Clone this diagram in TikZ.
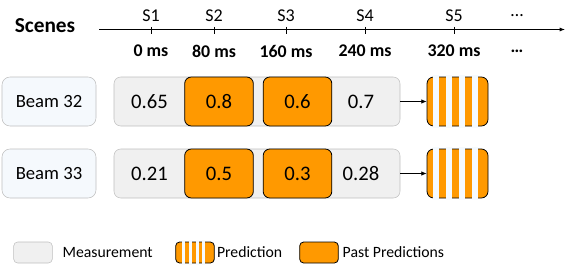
\documentclass[tikz,border=0pt]{standalone}
\usepackage{fontspec}
\setmainfont{Carlito}
\usetikzlibrary{positioning, arrows.meta}
\definecolor{pastorange}{HTML}{FF9900}
\definecolor{measgray}{HTML}{F0F0F0}
\definecolor{measedge}{HTML}{BFBFBF}
\definecolor{beamfill}{HTML}{F5F9FD}
\definecolor{stripewhite}{HTML}{F5FAFE}

\begin{document}
\begin{tikzpicture}[
  x=0.75pt, y=-0.75pt,
  beam/.style={draw=measedge, fill=beamfill, rounded corners=6pt,
               minimum width=70.5pt, minimum height=36.75pt, inner sep=0pt,
               font=\fontsize{14}{16}\selectfont},
  meas/.style={draw=measedge, fill=measgray, rounded corners=5pt,
               minimum width=214.5pt, minimum height=36.75pt, inner sep=0pt},
  past/.style={draw=black, fill=pastorange, rounded corners=5pt, line width=0.6pt,
               minimum width=51.5pt, minimum height=36.75pt, inner sep=0pt,
               font=\fontsize{15.5}{18}\selectfont},
  pred/.style={draw=black, fill=pastorange, rounded corners=5pt, line width=0.6pt,
               minimum width=45.75pt, minimum height=36.75pt, inner sep=0pt},
  stripe/.style={fill=stripewhite},
  val/.style={inner sep=0pt, font=\fontsize{15.5}{18}\selectfont},
  flow/.style={-{Latex[length=4pt, width=3.5pt]}, line width=0.6pt},
  scene/.style={inner sep=0pt, font=\fontsize{13.5}{15}\selectfont},
  stamp/.style={inner sep=0pt, font=\bfseries\fontsize{13.4}{15}\selectfont},
  legbox/.style={minimum width=29pt, minimum height=15.75pt, inner sep=0pt,
                 rounded corners=3pt},
  legtext/.style={inner sep=0pt, anchor=west, font=\fontsize{11.8}{14}\selectfont},
]
\useasboundingbox (0,0) rectangle (573,268);

% time axis
\node[inner sep=0pt, font=\bfseries\fontsize{16}{18}\selectfont] (scenes) at (45,26) {Scenes};
\coordinate (axstart) at (99,29.5);
\coordinate (axend) at (565,29.5);
\draw[-{Latex[length=4pt, width=3pt]}, line width=0.6pt] (axstart) -- (axend);
\foreach \x/\s/\t [count=\i] in {151/S1/0 ms, 214/S2/80 ms, 286/S3/160 ms,
                                 365/S4/240 ms, 454/S5/320 ms} {
  \coordinate (tick\i) at (\x,29.5);
  \draw[line width=0.6pt] ([yshift=2pt]tick\i) -- ([yshift=-3pt]tick\i);
  \node[scene] (s\i) at (\x,16) {\s};
  \node[stamp] (ms\i) at (\x,51) {\t};
}
\node[scene] (sdots) at (517,16) {\dots};
\node[stamp] (msdots) at (517,51) {\dots};

% beam rows
\foreach \b/\y/\va/\vb/\vc/\vd in {32/101.5/0.65/0.8/0.6/0.7, 33/173.5/0.21/0.5/0.3/0.28} {
  \node[beam] (beam\b) at (49,\y) {Beam \b};
  \node[meas] (meas\b) at (257,\y) {};
  \node[val] (first\b) at (149.5,\y) {\va};
  \node[past] (pasta\b) at (219,\y) {\vb};
  \node[past] (pastb\b) at (297.5,\y) {\vc};
  \node[val] (last\b) at (361,\y) {\vd};
  \node[pred] (pred\b) at (457.5,\y) {};
  \foreach \k in {0,...,3}
    \fill[stripe] ([xshift=5.1pt+9.6*\k pt, yshift=1pt]pred\b.north west)
      rectangle ([xshift=9.5pt+9.6*\k pt, yshift=-1pt]pred\b.south west);
  \draw[flow] (meas\b.east) -- (pred\b.west);
}

% legend
\node[legbox, draw=measedge, fill=measgray] (legmeas) at (33,252.5) {};
\node[legtext, right=7.3pt of legmeas] (legmeastext) {Measurement};
\node[legbox, draw=black, fill=pastorange, line width=0.6pt] (legpred) at (195,252.5) {};
\foreach \k in {0,...,3}
  \fill[stripe] ([xshift=5.3pt+5*\k pt, yshift=1pt]legpred.north west)
    rectangle ([xshift=7.5pt+5*\k pt, yshift=-1pt]legpred.south west);
\node[legtext, right=1.5pt of legpred] (legpredtext) {Prediction};
\node[legbox, draw=black, fill=pastorange, line width=0.6pt] (legpast) at (319,252.5) {};
\node[legtext, right=2.8pt of legpast] (legpasttext) {Past Predictions};
\end{tikzpicture}
\end{document}
